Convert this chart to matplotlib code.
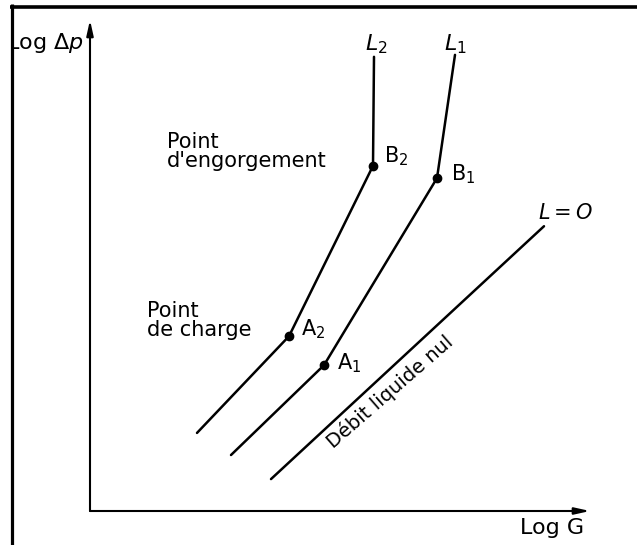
import matplotlib
matplotlib.use("Agg")
import matplotlib.pyplot as plt
from matplotlib.lines import Line2D
from matplotlib.transforms import Bbox, TransformedBbox

plt.rcParams['font.family'] = ['DejaVu Sans']
plt.rcParams['mathtext.fontset'] = 'dejavusans'

# log G / log dp coordinates of the three pressure-drop curves
# (start, loading point A, flooding point B, end)
logG_L2 = [2.14, 3.98, 5.66, 5.68]
logdp_L2 = [1.59, 3.56, 7.03, 9.25]
logG_L1 = [2.82, 4.68, 6.94, 7.30]
logdp_L1 = [1.14, 2.97, 6.78, 9.29]
logG_L0 = [3.62, 9.08]
logdp_L0 = [0.65, 5.80]

point_names = ["A$_2$", "B$_2$", "A$_1$", "B$_1$"]

W, H = 637, 545
fig = plt.figure(figsize=(W / 100, H / 100), dpi=100)
fig.patch.set_facecolor("white")

# page border (left and top only)
fig.add_artist(Line2D([11.5 / W, 11.5 / W], [0, 1 - 4 / H], transform=fig.transFigure,
                      color="black", lw=2.3, solid_capstyle="butt"))
fig.add_artist(Line2D([10 / W, 1], [1 - 7 / H, 1 - 7 / H], transform=fig.transFigure,
                      color="black", lw=2.6, solid_capstyle="butt"))

ax = fig.add_axes([90 / W, (H - 511) / H, 500 / W, 491 / H])
ax.set_xlim(0, 10)
ax.set_ylim(0, 10)
ax.axis("off")

# axes drawn as arrows
arrow = dict(arrowstyle="-|>,head_length=0.9,head_width=0.2", color="black", lw=1.5,
             shrinkA=0, shrinkB=0)
ax.annotate("", xy=(10, 0), xytext=(0, 0), arrowprops=arrow, annotation_clip=False)
ax.annotate("", xy=(0, 10), xytext=(0, 0), arrowprops=arrow, annotation_clip=False)

ax.text(9.25, -0.35, "Log G", fontsize=16, ha="center", va="center")
ylab = ax.text(-0.12, 9.53, r"Log $\Delta p$", fontsize=16, ha="right", va="center",
               clip_on=True)
ylab.set_clip_box(TransformedBbox(Bbox([[13 / W, 0], [1, 1]]), fig.transFigure))

# curves
line_kw = dict(color="black", lw=1.8, solid_capstyle="round")
ax.plot(logG_L2, logdp_L2, **line_kw)
ax.plot(logG_L1, logdp_L1, **line_kw)
ax.plot(logG_L0, logdp_L0, **line_kw)

# loading and flooding points
px = [logG_L2[1], logG_L2[2], logG_L1[1], logG_L1[2]]
py = [logdp_L2[1], logdp_L2[2], logdp_L1[1], logdp_L1[2]]
ax.plot(px, py, "o", color="black", ms=6)
offsets = [(0.48, 0.15), (0.46, 0.19), (0.50, 0.05), (0.52, 0.07)]
for x, y, name, (dx, dy) in zip(px, py, point_names, offsets):
    ax.text(x + dx, y + dy, name, fontsize=15, ha="center", va="center")

# curve labels
ax.text(logG_L2[-1] + 0.04, logdp_L2[-1] + 0.25, "$L_2$", fontsize=16, ha="center", va="center")
ax.text(logG_L1[-1], logdp_L1[-1] + 0.21, "$L_1$", fontsize=16, ha="center", va="center")
ax.text(logG_L0[-1] + 0.42, logdp_L0[-1] + 0.27, "$L = O$", fontsize=15, ha="center", va="center")

ax.text(1.54, 7.32, "Point\nd'engorgement", fontsize=15, ha="left", va="center",
        linespacing=0.95)
ax.text(1.14, 3.88, "Point\nde charge", fontsize=15, ha="left", va="center",
        linespacing=0.95)
ax.text(6.0, 2.42, "Débit liquide nul", fontsize=14, ha="center", va="center",
        rotation=41, rotation_mode="anchor")

fig.savefig("out.png", dpi=100, facecolor="white")
